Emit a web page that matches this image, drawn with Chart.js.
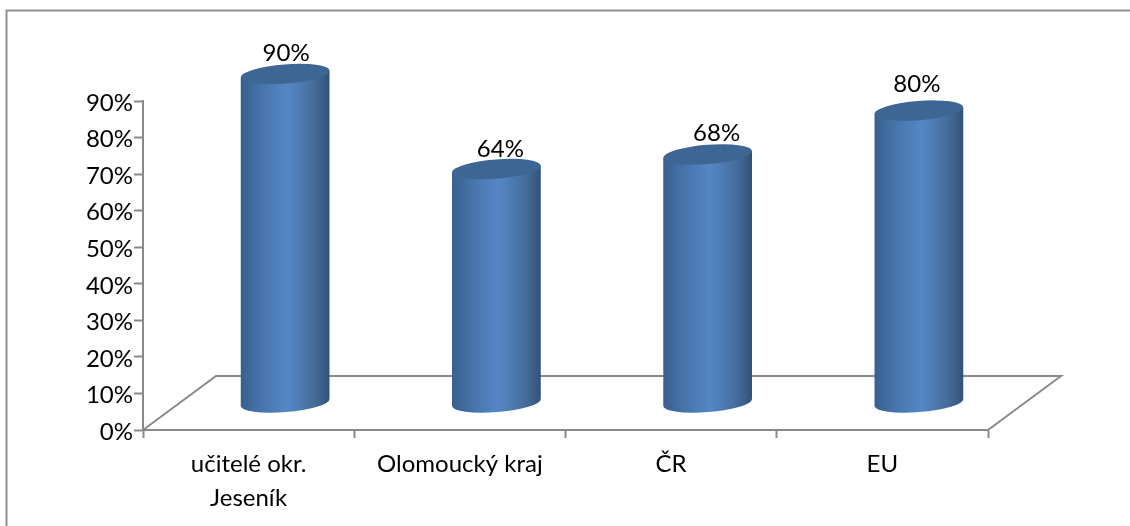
<!DOCTYPE html>
<html lang="cs">
<head>
<meta charset="utf-8">
<title>Podíl podle území</title>
<script src="https://cdn.jsdelivr.net/npm/chart.js@4/dist/chart.umd.js"></script>
<style>
  html, body { margin: 0; padding: 0; background: #fff; }
  #wrap { position: relative; width: 1130px; height: 526px; }
</style>
</head>
<body>
<div id="wrap"><canvas id="chart" width="1130" height="526"></canvas></div>
<script>
// Chart values
const categories = [['učitelé okr.', 'Jeseník'], 'Olomoucký kraj', 'ČR', 'EU'];
const shares = [90, 64, 68, 80];
const yTicks = [0, 10, 20, 30, 40, 50, 60, 70, 80, 90];

// Drawing constants
const FONT = 'Lato, "Open Sans", sans-serif';
const FONT_SIZE = 24;
const AXIS_COLOR = '#8a8a8a';
const DEPTH_X = 36.5, DEPTH_Y = 27;
const TILT = -4.5 * Math.PI / 180;
const LABEL_NUDGE = [[1, 1], [4, 2], [9, 1], [-2, -4]];

// Cylinder mark: a bar element drawn as a tilted 3D column on the floor plane.
class CylinderBar extends Chart.BarElement {
  draw(ctx) {
    const cx = this.x + DEPTH_X;
    const top = this.y - DEPTH_Y;
    const base = this.base - DEPTH_Y;
    const rx = this.width / 2;
    const ry = 9.6;
    const dx = rx * Math.cos(TILT), dy = rx * Math.sin(TILT);

    const grad = ctx.createLinearGradient(cx - rx, 0, cx + rx, 0);
    grad.addColorStop(0, '#385f8e');
    grad.addColorStop(0.2, '#4571a6');
    grad.addColorStop(0.52, '#5587c6');
    grad.addColorStop(0.8, '#476f9e');
    grad.addColorStop(0.94, '#395c85');
    grad.addColorStop(1, '#304f73');

    ctx.save();
    ctx.beginPath();
    ctx.moveTo(cx - dx, top - dy);
    ctx.lineTo(cx - dx, base - dy);
    ctx.ellipse(cx, base, rx, ry, TILT, Math.PI, 0, true);
    ctx.lineTo(cx + dx, top + dy);
    ctx.closePath();
    ctx.fillStyle = grad;
    ctx.fill();

    ctx.beginPath();
    ctx.ellipse(cx, top, rx, ry, TILT, 0, Math.PI * 2);
    ctx.fillStyle = '#3d6694';
    ctx.fill();
    ctx.restore();
  }
}
CylinderBar.id = 'cylinderBar';

class CylinderController extends Chart.BarController {}
CylinderController.id = 'cylinder';
CylinderController.defaults = { ...Chart.BarController.defaults, dataElementType: 'cylinderBar' };
CylinderController.overrides = Chart.BarController.overrides;
Chart.register(CylinderBar, CylinderController);

// Outer frame (top and left edges) and the floor of the 3D plot.
const backdrop = {
  id: 'backdrop',
  beforeDraw(chart) {
    const { ctx, chartArea: a } = chart;
    ctx.save();
    ctx.strokeStyle = '#8f8f8f';
    ctx.lineWidth = 2;
    ctx.beginPath();
    ctx.moveTo(6.5, chart.height);
    ctx.lineTo(6.5, 10.5);
    ctx.lineTo(chart.width, 10.5);
    ctx.stroke();

    ctx.strokeStyle = AXIS_COLOR;
    ctx.beginPath();
    ctx.moveTo(a.left, a.bottom);
    ctx.lineTo(a.left + 2 * DEPTH_X, a.bottom - 2 * DEPTH_Y);
    ctx.lineTo(a.right + 2 * DEPTH_X, a.bottom - 2 * DEPTH_Y);
    ctx.lineTo(a.right, a.bottom);
    ctx.stroke();
    ctx.restore();
  }
};

// Percentage labels above each cylinder.
const valueLabels = {
  id: 'valueLabels',
  afterDatasetsDraw(chart) {
    const { ctx } = chart;
    ctx.save();
    ctx.font = FONT_SIZE + 'px ' + FONT;
    ctx.fillStyle = '#000';
    ctx.textAlign = 'center';
    ctx.textBaseline = 'middle';
    chart.getDatasetMeta(0).data.forEach((bar, i) => {
      const [nx, ny] = LABEL_NUDGE[i];
      ctx.fillText(shares[i] + '%', bar.x + DEPTH_X + nx, bar.y - DEPTH_Y - 22 + ny);
    });
    ctx.restore();
  }
};

new Chart(document.getElementById('chart'), {
  type: 'cylinder',
  data: {
    labels: categories,
    datasets: [{ data: shares, clip: false, barPercentage: 89 / (211.25 * 0.8), categoryPercentage: 0.8 }]
  },
  options: {
    responsive: false,
    animation: false,
    events: [],
    layout: { padding: { top: 101, right: 142, left: 0, bottom: 0 } },
    plugins: { legend: { display: false }, tooltip: { enabled: false } },
    scales: {
      x: {
        type: 'category',
        offset: true,
        afterFit(s) { s.height = 96; },
        border: { color: AXIS_COLOR, width: 2 },
        grid: { display: true, drawOnChartArea: false, drawTicks: true, tickLength: 8, tickWidth: 2, color: AXIS_COLOR, offset: true },
        ticks: { color: '#000', font: { family: FONT, size: FONT_SIZE, lineHeight: 34 / FONT_SIZE }, padding: 9, maxRotation: 0, autoSkip: false }
      },
      y: {
        min: 0,
        max: 90,
        afterFit(s) { s.width = 143; },
        afterBuildTicks(s) { s.ticks = yTicks.map(v => ({ value: v })); },
        border: { color: AXIS_COLOR, width: 2 },
        grid: { display: true, drawOnChartArea: false, drawTicks: true, tickLength: 9, tickWidth: 2, color: AXIS_COLOR },
        ticks: { color: '#000', font: { family: FONT, size: FONT_SIZE }, padding: 1, labelOffset: 2, callback: v => v + '%' }
      }
    }
  },
  plugins: [backdrop, valueLabels]
});
</script>
</body>
</html>
